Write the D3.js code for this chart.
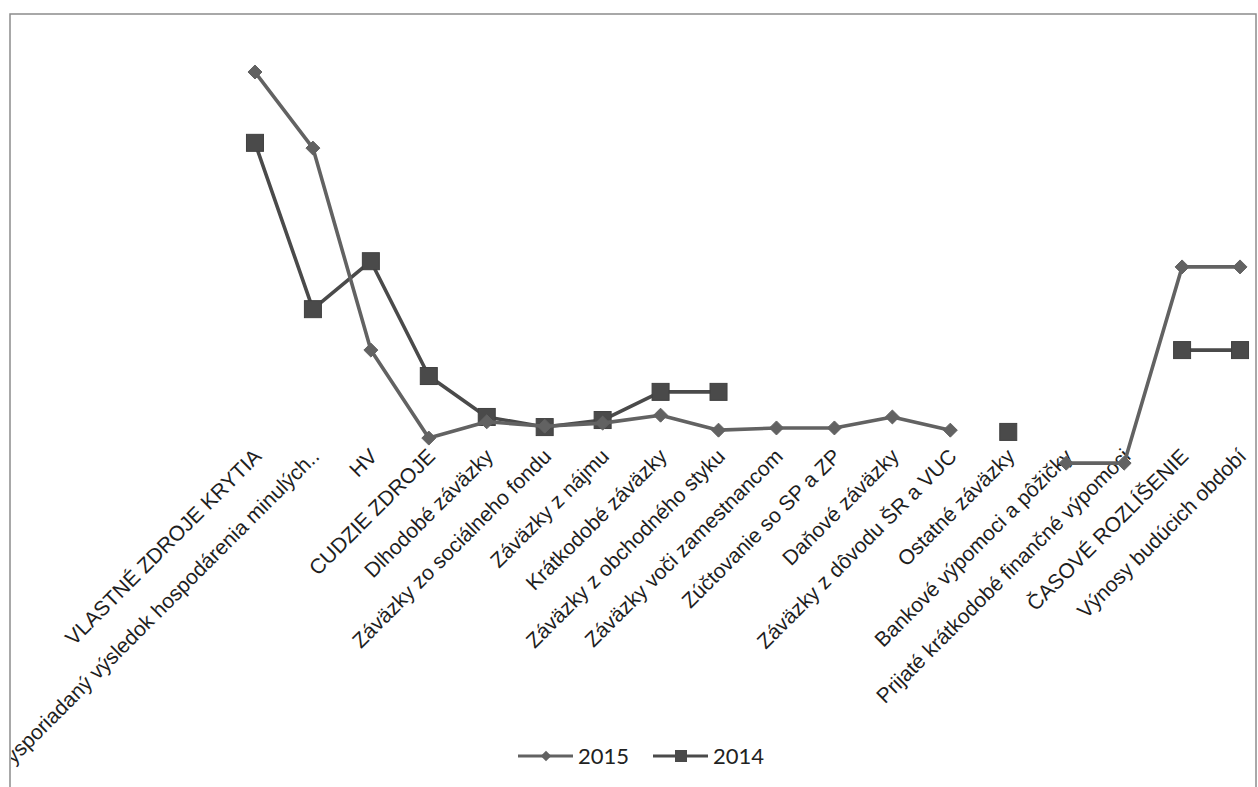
<!DOCTYPE html>
<html>
<head>
<meta charset="utf-8">
<script src="https://cdn.jsdelivr.net/npm/d3@7/dist/d3.min.js"></script>
<style>
  html, body { margin: 0; padding: 0; background: #fff; }
  svg { display: block; }
</style>
</head>
<body>
<svg id="chart" width="1258" height="787"></svg>
<script>
const categories = [
  "VLASTNÉ ZDROJE KRYTIA",
  "Nevysporiadaný výsledok hospodárenia minulých..",
  "HV",
  "CUDZIE ZDROJE",
  "Dlhodobé záväzky",
  "Záväzky zo sociálneho fondu",
  "Záväzky z nájmu",
  "Krátkodobé záväzky",
  "Záväzky z obchodného styku",
  "Záväzky voči zamestnancom",
  "Zúčtovanie so SP a ZP",
  "Daňové záväzky",
  "Záväzky z dôvodu ŠR a VUC",
  "Ostatné záväzky",
  "Bankové výpomoci a pôžičky",
  "Prijaté krátkodobé finančné výpomoci",
  "ČASOVÉ ROZLÍŠENIE",
  "Výnosy budúcich období"
];
const values2015 = [95.0, 77.7, 31.8, 11.8, 15.5, 14.5, 15.2, 17.0, 13.6, 14.1, 14.1, 16.6, 13.6, null, 6.1, 6.1, 50.7, 50.7];
const values2014 = [78.9, 41.1, 52.0, 25.9, 16.6, 14.3, 15.9, 22.3, 22.3, null, null, null, null, 13.2, null, null, 31.8, 31.8];
const seriesNames = ["2015", "2014"];

const svg = d3.select("#chart");

// frame
svg.append("rect").attr("x", 10).attr("y", 14).attr("width", 1246).attr("height", 800)
  .attr("fill", "none").attr("stroke", "#8c8c8c").attr("stroke-width", 1.5);

const x = d3.scaleBand().domain(categories).range([226, 1269]);
const cx = c => x(c) + x.bandwidth() / 2;
const y = d3.scaleLinear().domain([0, 100]).range([490, 50]);

// clip for labels
svg.append("clipPath").attr("id", "clip").append("rect")
  .attr("x", 11).attr("y", 15).attr("width", 1244).attr("height", 780);

// category labels
const labelG = svg.append("g").attr("clip-path", "url(#clip)");
labelG.selectAll("text").data(categories).join("text")
  .attr("transform", d => `translate(${cx(d) - 3},447) rotate(-45)`)
  .attr("text-anchor", "end")
  .attr("dy", "0.72em")
  .attr("font-family", "'Liberation Sans', Arial, sans-serif")
  .attr("font-size", 21)
  .attr("fill", "#1e1e1e")
  .text(d => d);

const styles = {
  "2015": { color: "#626262", marker: "diamond", values: values2015 },
  "2014": { color: "#4a4a4a", marker: "square", values: values2014 }
};

function drawSeries(name) {
  const s = styles[name];
  const data = categories.map((c, i) => ({ c, v: s.values[i] }));
  const line = d3.line().defined(d => d.v != null).x(d => cx(d.c)).y(d => y(d.v));
  svg.append("path").datum(data).attr("d", line)
    .attr("fill", "none").attr("stroke", s.color).attr("stroke-width", 3.6)
    .attr("stroke-linejoin", "round");
  const pts = data.filter(d => d.v != null);
  if (s.marker === "diamond") {
    const sym = d3.symbol().type(d3.symbolDiamond2).size(125);
    svg.append("g").selectAll("path").data(pts).join("path")
      .attr("d", sym).attr("transform", d => `translate(${cx(d.c)},${y(d.v)})`)
      .attr("fill", s.color).attr("stroke", s.color).attr("stroke-width", 1);
  } else {
    svg.append("g").selectAll("rect").data(pts).join("rect")
      .attr("x", d => cx(d.c) - 8.5).attr("y", d => y(d.v) - 8.5)
      .attr("width", 17).attr("height", 17)
      .attr("fill", s.color).attr("stroke", "#404040").attr("stroke-width", 1);
  }
}
drawSeries("2014");
drawSeries("2015");

// legend
const legend = svg.append("g");
const legX = [518, 653];
seriesNames.forEach((name, i) => {
  const s = styles[name];
  const g = legend.append("g").attr("transform", `translate(${legX[i]},756)`);
  g.append("line").attr("x1", 0).attr("x2", 55).attr("y1", 0).attr("y2", 0)
    .attr("stroke", s.color).attr("stroke-width", 3);
  if (s.marker === "diamond") {
    g.append("path").attr("d", d3.symbol().type(d3.symbolDiamond2).size(70)())
      .attr("transform", "translate(28,0)").attr("fill", s.color);
  } else {
    g.append("rect").attr("x", 22).attr("y", -6).attr("width", 12).attr("height", 12)
      .attr("fill", s.color);
  }
  g.append("text").attr("x", 60).attr("y", 0).attr("dy", "0.36em")
    .attr("font-family", "Lato, 'Open Sans', sans-serif").attr("font-size", 22)
    .attr("fill", "#222").text(name);
});
</script>
</body>
</html>
